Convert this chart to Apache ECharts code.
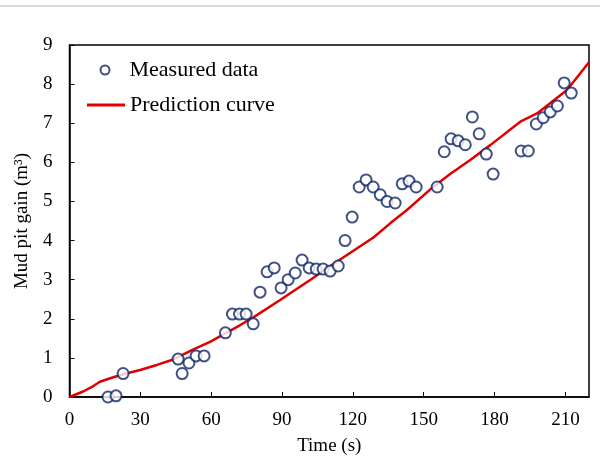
<!DOCTYPE html>
<html>
<head>
<meta charset="utf-8">
<script src="https://cdn.jsdelivr.net/npm/echarts@6/dist/echarts.min.js"></script>
<style>
  html, body { margin: 0; padding: 0; background: #fff; }
  #chart { width: 600px; height: 461px; }
</style>
</head>
<body>
<div id="chart"></div>
<script>
// measured points: time (s) and mud pit gain (m3)
var measuredTime = [16.3, 19.7, 22.7, 46, 47.7, 50.6, 53.6, 57, 66, 69, 72, 74.8, 77.8, 80.7, 83.7, 86.7,
    89.6, 92.6, 95.6, 98.5, 101.5, 104.5, 107.4, 110.4, 113.8, 116.7, 119.7, 122.7, 125.6, 128.6,
    131.6, 134.5, 137.9, 140.9, 143.8, 146.8, 155.7, 158.7, 161.6, 164.6, 167.6, 170.6, 173.5,
    176.5, 179.4, 191.3, 194.3, 197.7, 200.6, 203.6, 206.6, 209.5, 212.5];
var measuredGain = [0, 0.03, 0.6, 0.97, 0.6, 0.87, 1.05, 1.05, 1.64, 2.12, 2.12, 2.12, 1.87, 2.68, 3.2, 3.3,
    2.79, 3.0, 3.17, 3.5, 3.3, 3.27, 3.27, 3.22, 3.35, 4.0, 4.6, 5.37, 5.55, 5.37,
    5.17, 5.0, 4.96, 5.45, 5.52, 5.37, 5.37, 6.27, 6.6, 6.55, 6.45, 7.16, 6.73,
    6.21, 5.7, 6.29, 6.29, 6.98, 7.14, 7.29, 7.44, 8.03, 7.77];

// prediction curve
var predTime = [0, 5.8, 10.1, 12.9, 17.2, 22.8, 29.9, 37, 44, 52.5, 59.5, 72.3, 77.2, 89.2, 101.9,
    113.2, 128.7, 135.8, 142.9, 152.8, 161.2, 169.7, 178.2, 190.9, 198, 210.7, 220];
var predGain = [0, 0.14, 0.28, 0.39, 0.48, 0.58, 0.69, 0.82, 0.96, 1.22, 1.41, 1.84, 2.01, 2.48, 2.99,
    3.46, 4.08, 4.44, 4.78, 5.31, 5.70, 6.06, 6.44, 7.04, 7.25, 7.85, 8.56];

var NAME_MEASURED = 'Measured data';
var NAME_PRED = 'Prediction curve';
var FONT = '"Liberation Serif", "Times New Roman", serif';
var NAVY = '#102766';

var myChart = echarts.init(document.getElementById('chart'));

var option = {
    backgroundColor: '#fff',
    animation: false,
    textStyle: { fontFamily: FONT, color: '#000' },
    graphic: [{
        type: 'line',
        shape: { x1: 0, y1: 6, x2: 600, y2: 6 },
        style: { stroke: '#b4b4b4', lineWidth: 1 }
    }],
    grid: {
        left: 69.5, right: 11, top: 45, bottom: 64,
        show: true, borderColor: '#000', borderWidth: 1.5
    },
    legend: [{
        left: 99.5, top: 59, padding: 0,
        itemWidth: 9, itemHeight: 9,
        textStyle: { fontFamily: FONT, fontSize: 22, color: '#000', padding: [0, 0, 0, 15] },
        data: [{ name: NAME_MEASURED, icon: 'circle' }]
    }, {
        left: 87, top: 94, padding: 0,
        itemWidth: 38, itemHeight: 3,
        textStyle: { fontFamily: FONT, fontSize: 22, color: '#000' },
        data: [{ name: NAME_PRED, icon: 'rect' }]
    }],
    xAxis: {
        type: 'value',
        min: 0, max: 220, interval: 30,
        name: 'Time (s)',
        nameLocation: 'middle',
        nameGap: 40,
        nameTextStyle: { fontFamily: FONT, fontSize: 19, color: '#000' },
        axisLine: { lineStyle: { color: '#000', width: 1.5 } },
        axisTick: { inside: true, length: 5, lineStyle: { color: '#000', width: 1 } },
        axisLabel: { fontFamily: FONT, fontSize: 19, color: '#000', margin: 14, showMaxLabel: false },
        splitLine: { show: false }
    },
    yAxis: {
        type: 'value',
        min: 0, max: 9, interval: 1,
        name: 'Mud pit gain (m³)',
        nameLocation: 'middle',
        nameRotate: 90,
        nameGap: 38,
        nameTextStyle: { fontFamily: FONT, fontSize: 19, color: '#000' },
        axisLine: { lineStyle: { color: '#000', width: 1.5 } },
        axisTick: { inside: true, length: 5, lineStyle: { color: '#000', width: 1 } },
        axisLabel: { fontFamily: FONT, fontSize: 19, color: '#000', margin: 17 },
        splitLine: { show: false }
    },
    series: [{
        name: NAME_MEASURED,
        type: 'scatter',
        z: 3,
        clip: false,
        symbol: 'circle',
        symbolSize: 11,
        itemStyle: { color: '#fff', borderColor: NAVY, borderWidth: 2 },
        data: measuredTime.map(function (t, i) { return [t, measuredGain[i]]; })
    }, {
        name: NAME_PRED,
        type: 'line',
        z: 2,
        showSymbol: false,
        symbol: 'none',
        lineStyle: { color: '#e00000', width: 2.5 },
        itemStyle: { color: '#e00000' },
        data: predTime.map(function (t, i) { return [t, predGain[i]]; })
    }]
};

myChart.setOption(option);
</script>
</body>
</html>
